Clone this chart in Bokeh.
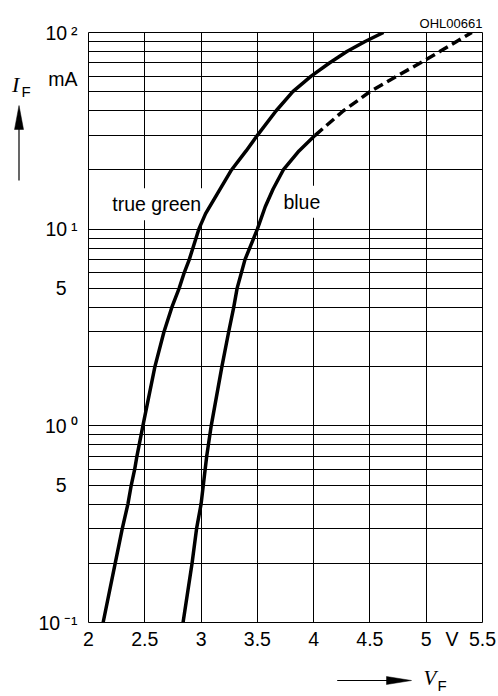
from bokeh.plotting import figure
from bokeh.models import Range1d, FixedTicker, Label
from bokeh.layouts import column, row
from bokeh.core.properties import value
from bokeh.embed import file_html
from bokeh.resources import INLINE

# ---- data (forward voltage V_F in V, forward current I_F in mA) ----
green_vf = [2.13, 2.237, 2.30, 2.35, 2.38, 2.41, 2.43, 2.483, 2.59, 2.67, 2.74, 2.805,
            2.85, 2.895, 2.98, 3.04, 3.14, 3.27, 3.40, 3.50, 3.667, 3.815, 3.978,
            4.14, 4.295, 4.457, 4.62]
green_if = [0.1, 0.2, 0.3, 0.4, 0.5, 0.6, 0.7, 1, 2, 3, 4, 5,
            6, 7, 10, 12, 15, 20, 25, 30, 40, 50, 60,
            70, 80, 90, 100]

blue_vf = [2.84, 2.92, 2.96, 3.0, 3.02, 3.05, 3.09, 3.185, 3.245, 3.29, 3.32, 3.39,
           3.50, 3.57, 3.64, 3.73, 3.87, 4.013]
blue_if = [0.1, 0.2, 0.3, 0.4, 0.5, 0.7, 1, 2, 3, 4, 5, 7,
           10, 13, 16, 20, 25, 30]

blue_ext_vf = [4.013, 4.265, 4.50, 4.74, 4.946, 5.12, 5.27, 5.405]
blue_ext_if = [30, 40, 50, 60, 70, 80, 90, 100]

x_ticks = [2, 2.5, 3, 3.5, 4, 4.5, 5, 5.23, 5.5]
x_tick_labels = ["2", "2.5", "3", "3.5", "4", "4.5", "5", "V", "5.5"]
y_ticks = [0.1, 0.5, 1, 5, 10, 58, 100]
y_tick_labels = ["10\u2009\u207b\u00b9", "5\u2007", "10\u2009\u2070", "5\u2007",
                 "10\u2009\u00b9", "mA", "10\u2009\u00b2"]

x_grid = [2.0, 2.5, 3.0, 3.5, 4.0, 4.5, 5.0, 5.5]
y_grid = [0.1, 0.2, 0.3, 0.4, 0.5, 0.6, 0.7, 0.8, 0.9,
          1, 2, 3, 4, 5, 6, 7, 8, 9,
          10, 20, 30, 40, 50, 60, 70, 80, 90, 100]

curve_names = ["true green", "blue"]
curve_label_x = [2.606, 3.895]
curve_label_y = [13.4, 13.8]

doc_id = "OHL00661"

FONT = "Liberation Sans"
SERIF = "Liberation Serif"

# ---------------- main chart ----------------
p = figure(width=466, height=660,
           x_range=Range1d(2, 5.5), y_range=Range1d(0.1, 100),
           y_axis_type="log", output_backend="svg", toolbar_location=None,
           min_border_left=56, min_border_right=16, min_border_top=32,
           min_border_bottom=38, background_fill_color="white",
           border_fill_color="white")

p.outline_line_color = "black"
p.outline_line_width = 1

p.title.text = doc_id
p.title.align = "right"
p.title.text_font = FONT
p.title.text_font_size = "13px"
p.title.text_font_style = "normal"
p.title.text_color = "black"
p.title.standoff = 3

p.xgrid.ticker = FixedTicker(ticks=x_grid)
p.ygrid.ticker = FixedTicker(ticks=y_grid)
for g in (p.xgrid, p.ygrid):
    g.grid_line_color = "black"
    g.grid_line_width = 1
    g.minor_grid_line_color = None

p.xaxis.ticker = FixedTicker(ticks=x_ticks)
p.xaxis.major_label_overrides = {t: l for t, l in zip(x_ticks, x_tick_labels)}
p.yaxis.ticker = FixedTicker(ticks=y_ticks)
p.yaxis.major_label_overrides = {t: l for t, l in zip(y_ticks, y_tick_labels)}
for ax in (p.xaxis[0], p.yaxis[0]):
    ax.axis_line_color = None
    ax.major_tick_line_color = None
    ax.minor_tick_line_color = None
    ax.major_tick_out = 0
    ax.major_tick_in = 0
    ax.minor_tick_out = 0
    ax.minor_tick_in = 0
    ax.major_label_text_font = FONT
    ax.major_label_text_font_size = "19.5px"
    ax.major_label_text_color = "black"
p.xaxis.major_label_standoff = 5
p.yaxis.major_label_standoff = 11

for name, lx, ly in zip(curve_names, curve_label_x, curve_label_y):
    p.add_layout(Label(x=lx, y=ly, text=name, text_align="center",
                       text_baseline="middle", text_font=FONT,
                       text_font_size="19.5px", text_color="black",
                       background_fill_color="white", padding=5,
                       level="underlay"))

p.line(green_vf, green_if, line_color="black", line_width=3.5)
p.line(blue_vf, blue_if, line_color="black", line_width=3.5)
p.line(blue_ext_vf, blue_ext_if, line_color="black", line_width=3.5,
       line_dash="10 5")


def strip(w, h, y0, y1):
    # y0/y1: page-pixel rows spanned by this strip's plotting area
    f = figure(width=w, height=h, x_range=Range1d(0, w), y_range=Range1d(y1, y0),
               x_axis_type=None, y_axis_type=None, toolbar_location=None,
               output_backend="svg", min_border=0, outline_line_color=None,
               background_fill_color="white", border_fill_color="white")
    f.title.visible = False
    f.title.text_font_size = "0px"
    f.title.standoff = 0
    return f


# ---------------- left strip: I_F with upward arrow ----------------
# (its plotting area is aligned with the main chart's frame rows 32..622)
left = strip(32, 660, 32, 622)
left.text(x=[11.5], y=[84], text=["I"], text_font=value(SERIF),
          text_font_style="italic", text_font_size="22px",
          text_baseline="middle", text_align="left", text_color="black")
left.text(x=[21], y=[91], text=["F"], text_font=value(FONT),
          text_font_size="15px", text_baseline="middle", text_align="left",
          text_color="black")
left.segment(x0=[18.5], y0=[180], x1=[18.5], y1=[127], line_color="black",
             line_width=1.2)
left.patch([14, 18.5, 23], [129, 105, 129], fill_color="black", line_color="black",
           line_width=0.5)

# ---------------- bottom strip: V_F with right arrow ----------------
bottom = strip(498, 36, 660, 696)
bottom.text(x=[423], y=[677.5], text=["V"], text_font=value(SERIF),
            text_font_style="italic", text_font_size="21px",
            text_baseline="middle", text_align="left", text_color="black")
bottom.text(x=[437], y=[685], text=["F"], text_font=value(FONT),
            text_font_size="15px", text_baseline="middle", text_align="left",
            text_color="black")
bottom.segment(x0=[336.7], y0=[680], x1=[389], y1=[680], line_color="black",
               line_width=1.2)
bottom.patch([386, 411, 386], [676, 680, 684], fill_color="black", line_color="black",
             line_width=0.5)

layout = column(row(left, p, spacing=0), bottom, spacing=0)

open("out.html", "w").write(file_html(layout, INLINE))
